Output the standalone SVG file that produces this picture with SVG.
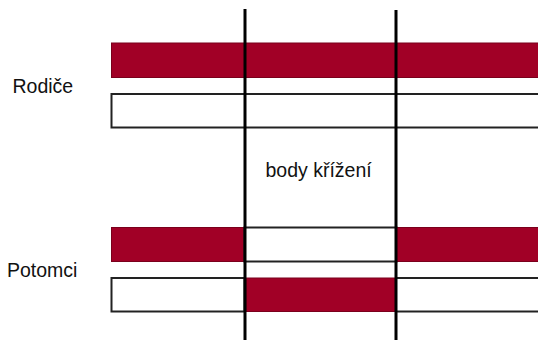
<svg xmlns="http://www.w3.org/2000/svg" width="538" height="340" viewBox="0 0 538 340">
<style>
.red{fill:#a10026;stroke:#7a001c;stroke-width:1}
.wh{fill:#ffffff;stroke:#222;stroke-width:2}
.cut{stroke:#000;stroke-width:3;fill:none}
text{font-family:"Liberation Sans",Arial,sans-serif;font-size:19.5px;fill:#111}
</style>
<rect width="538" height="340" fill="#fff"/>
<g id="parent1">
<rect class="red" x="111.5" y="43" width="430" height="34.5"/>
</g>
<g id="parent2">
<rect class="wh" x="111.5" y="94" width="430" height="33.5"/>
</g>
<g id="child1">
<rect class="red" x="111.5" y="227.5" width="133" height="34"/>
<rect class="wh" x="244.5" y="227.5" width="152" height="34"/>
<rect class="red" x="396" y="227.5" width="145" height="34"/>
</g>
<g id="child2">
<rect class="wh" x="111.5" y="278" width="133" height="33.5"/>
<rect class="red" x="246" y="278" width="150" height="33.5"/>
<rect class="wh" x="396" y="278" width="145" height="33.5"/>
</g>
<g id="connectors">
<line class="cut" x1="245" y1="9" x2="245" y2="340"/>
<line class="cut" x1="396" y1="10" x2="396" y2="340"/>
</g>
<g id="labels">
<text x="12.5" y="93">Rodiče</text>
<text x="7" y="277">Potomci</text>
<text x="265.5" y="177">body křížení</text>
</g>
</svg>
